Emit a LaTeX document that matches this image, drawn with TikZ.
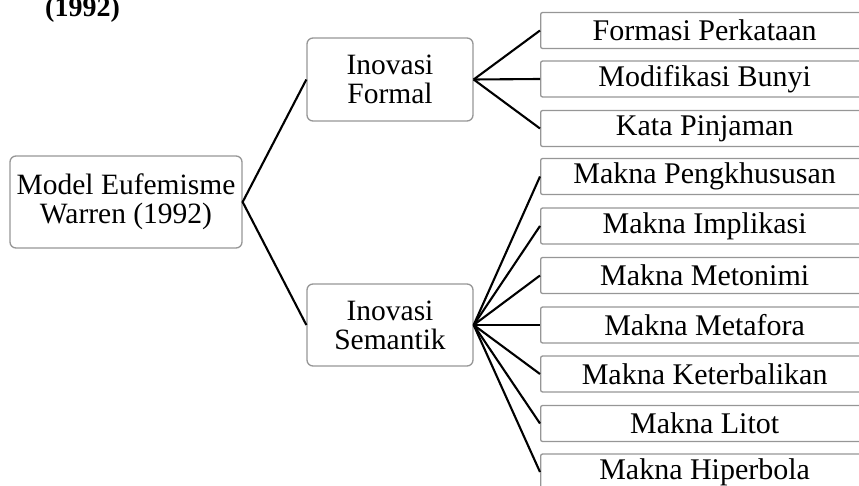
\documentclass[tikz,border=0pt]{standalone}
\usepackage{fontspec}
\setmainfont{Liberation Serif}
\definecolor{boxgray}{RGB}{150,150,150}
\tikzset{
  mainbox/.style={draw=boxgray, line width=1.3pt, rounded corners=6pt, align=center,
    inner sep=0pt, font=\fontsize{29.5}{29}\selectfont},
  leafbox/.style={draw=boxgray, line width=1.3pt, rounded corners=2pt, anchor=west,
    minimum width=328pt, minimum height=36pt, inner sep=0pt, font=\fontsize{30}{30}\selectfont},
  conn/.style={draw=black, line width=2.1pt}
}
\begin{document}
\begin{tikzpicture}[x=1pt,y=-1pt]
\useasboundingbox (0,0) rectangle (859,486);
\clip (0,0) rectangle (859,486);
\node[anchor=base west, inner sep=0pt, font=\fontsize{28}{28}\selectfont\bfseries] (cap) at (45,17) {(1992)};
\node[mainbox, minimum width=232pt, minimum height=92pt] (root) at (126,202) {Model Eufemisme\\Warren (1992)};
\node[mainbox, minimum width=166pt, minimum height=83pt] (formal) at (390,79.5) {Inovasi\\Formal};
\node[mainbox, minimum width=166pt, minimum height=82pt] (sem) at (390,325) {Inovasi\\Semantik};
\node[leafbox] (f1) at (540,30.5) {Formasi Perkataan};
\node[leafbox] (f2) at (540,79) {Modifikasi Bunyi};
\node[leafbox] (f3) at (540,128.5) {Kata Pinjaman};
\node[leafbox] (s1) at (540,176.5) {Makna Pengkhususan};
\node[leafbox] (s2) at (540,226) {Makna Implikasi};
\node[leafbox] (s3) at (540,275.5) {Makna Metonimi};
\node[leafbox] (s4) at (540,325) {Makna Metafora};
\node[leafbox] (s5) at (540,374) {Makna Keterbalikan};
\node[leafbox] (s6) at (540,423.5) {Makna Litot};
\node[leafbox] (s7) at (540,472) {Makna Hiperbola};
\draw[conn] (formal.west) -- (root.east) -- (sem.west);
\foreach \n in {f1,f2,f3} \draw[conn] (formal.east) -- (\n.west);
\foreach \n in {s1,s2,s3,s4,s5,s6,s7} \draw[conn] (sem.east) -- (\n.west);
\end{tikzpicture}
\end{document}
